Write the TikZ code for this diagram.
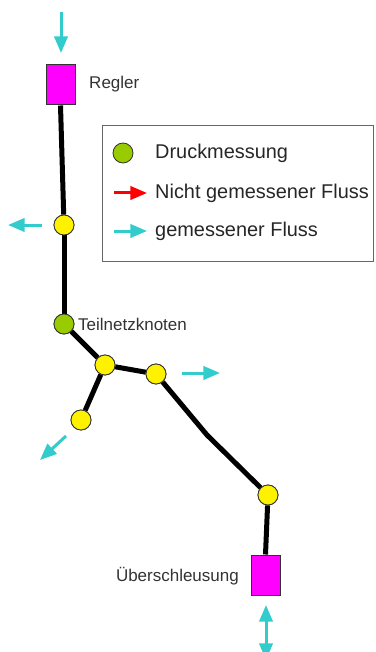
\documentclass[tikz,border=0pt]{standalone}
\usepackage{fontspec}
\setmainfont{Liberation Sans}
\usetikzlibrary{arrows.meta}
\definecolor{flowcyan}{RGB}{51,204,204}
\definecolor{knotgreen}{RGB}{153,204,0}
\definecolor{labelgray}{RGB}{51,51,51}
\definecolor{boxmagenta}{RGB}{255,0,255}
\tikzset{
  pipe/.style={line width=1.5mm},
  station/.style={draw=black!80, line width=0.3mm, fill=boxmagenta, minimum width=8.7mm, minimum height=12mm, inner sep=0pt},
  meas/.style={circle, draw=black!80, line width=0.25mm, fill=yellow, minimum size=6mm, inner sep=0pt},
  knot/.style={meas, fill=knotgreen},
  flow/.style={draw=flowcyan, line width=0.9mm, -{Triangle[length=5mm,width=4mm]}},
  unflow/.style={flow, draw=red},
  lbl/.style={text=labelgray, font=\fontsize{14.5}{17}\selectfont, inner sep=0pt},
  legtext/.style={text=black!85, font=\fontsize{17}{20}\selectfont, inner sep=0pt, anchor=west}
}
\begin{document}
\begin{tikzpicture}[x=0.3mm, y=-0.3mm]
          \useasboundingbox (0,0) rectangle (375,652);

          \node[station] (regler) at (60.5,85) {};
          \node[meas] (m1) at (64,225) {};
          \node[knot] (tk) at (64,324) {};
          \node[meas] (m2) at (105,365) {};
          \node[meas] (m3) at (156,374) {};
          \node[meas] (m4) at (81,420) {};
          \coordinate (knick) at (207,435);
          \node[meas] (m5) at (268,495) {};
          \node[station] (ueber) at (265.5,575) {};

          \node[lbl, anchor=west] (reglertext) at (89,84) {Regler};
          \node[lbl, anchor=west] (tktext) at (78,324) {Teilnetzknoten};
          \node[lbl, anchor=east] (uebertext) at (239,576) {Überschleusung};

          \draw[pipe] (regler.south) -- (m1);
          \draw[pipe] (m1) -- (tk);
          \draw[pipe] (tk) -- (m2);
          \draw[pipe] (m2) -- (m3);
          \draw[pipe] (m2) -- (m4);
          \draw[pipe] (m3) -- (knick) -- (m5);
          \draw[pipe] (m5) -- (ueber.north);
          \node[station] at (ueber) {};
          \node[meas] at (m1) {};
          \node[knot] at (tk) {};
          \node[meas] at (m2) {};
          \node[meas] at (m3) {};
          \node[meas] at (m4) {};
          \node[meas] at (m5) {};
          \node[station] at (regler) {};

          \coordinate (ein1) at (61,12);
          \coordinate (ein2) at (61,53);
          \coordinate (aus1a) at (42,225);
          \coordinate (aus1b) at (8,225);
          \coordinate (aus2a) at (182,373);
          \coordinate (aus2b) at (220,373);
          \coordinate (aus3a) at (66,436);
          \coordinate (aus3b) at (40,460);
          \coordinate (ue1) at (266,605);
          \coordinate (ue2) at (266,660);
          \draw[flow] (ein1) -- (ein2);
          \draw[flow] (aus1a) -- (aus1b);
          \draw[flow] (aus2a) -- (aus2b);
          \draw[flow] (aus3a) -- (aus3b);
          \draw[flow, {Triangle[length=5mm,width=4mm]}-{Triangle[length=5mm,width=4mm]}] (ue1) -- (ue2);

          \node[draw=black!60, line width=0.3mm, minimum width=81.3mm, minimum height=40.8mm, anchor=north west] (legende) at (102,125) {};
          \node[knot] (legknot) at (123,153) {};
          \coordinate (legrot1) at (114,193);
          \coordinate (legrot2) at (147,193);
          \coordinate (legcyan1) at (114,231);
          \coordinate (legcyan2) at (147,231);
          \draw[unflow] (legrot1) -- (legrot2);
          \draw[flow] (legcyan1) -- (legcyan2);
          \node[legtext] (druck) at (155,153) {Druckmessung};
          \node[legtext] (nicht) at (155,193) {Nicht gemessener Fluss};
          \node[legtext] (gem) at (155,231) {gemessener Fluss};
      \end{tikzpicture}
\end{document}
